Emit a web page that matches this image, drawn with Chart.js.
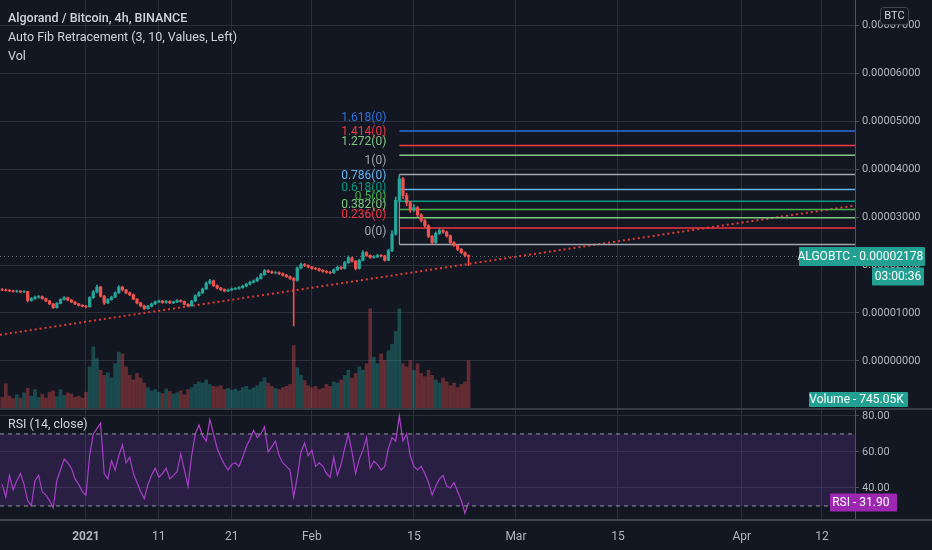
<!DOCTYPE html>
<html>
<head>
<meta charset="utf-8">
<script src="https://cdn.jsdelivr.net/npm/chart.js@4.4.1/dist/chart.umd.min.js"></script>
<style>
  html, body { margin: 0; padding: 0; background: #131722; }
  #wrap { position: relative; width: 932px; height: 550px; overflow: hidden; background: #131722; }
  canvas { position: absolute; left: 0; }
  #priceCanvas { top: 0; }
  #rsiCanvas { top: 396px; }
</style>
</head>
<body>
<div id="wrap">
  <canvas id="priceCanvas" width="932" height="409"></canvas>
  <canvas id="rsiCanvas" width="932" height="154"></canvas>
</div>
<script>
// x = days since 1 Jan 2021, prices in satoshi (1e-8 BTC)
const firstDay = -11.5;
const firstOpen = 1490;
const closes = [1480,1470,1462,1450,1455,1440,1445,1260,1300,1330,
  1340,1300,1250,1190,1110,1200,1280,1320,1270,1230,
  1190,1160,1140,1130,1320,1440,1540,1350,1210,1280,
  1330,1420,1540,1480,1420,1380,1290,1210,1150,1090,
  1140,1190,1230,1250,1220,1240,1210,1230,1260,1240,
  1180,1150,1250,1360,1420,1500,1620,1670,1570,1520,
  1490,1460,1480,1500,1510,1530,1560,1600,1640,1670,
  1720,1800,1880,1860,1840,1840,1820,1790,1760,1720,
  1680,1940,2010,1990,1960,1930,1920,1890,1870,1850,
  1840,1900,1950,1930,2050,2150,2080,1930,2100,2260,
  2200,2160,2170,2200,2190,2100,2300,2650,3350,3800,
  3450,3300,3150,3200,3050,2930,2820,2600,2470,2660,
  2720,2690,2610,2470,2410,2330,2260,2200,2178];
const highs = [1510,1500,1490,1480,1475,1470,1465,1455,1320,1350,
  1365,1355,1310,1265,1200,1215,1300,1340,1330,1285,
  1240,1200,1175,1160,1340,1470,1580,1560,1370,1300,
  1350,1440,1570,1560,1495,1440,1395,1300,1225,1165,
  1160,1210,1250,1270,1265,1260,1255,1250,1280,1275,
  1250,1195,1265,1380,1445,1520,1650,1700,1685,1585,
  1535,1505,1500,1520,1530,1550,1580,1620,1665,1690,
  1745,1825,1910,1900,1880,1865,1860,1835,1805,1775,
  1740,1960,2040,2035,2005,1975,1950,1935,1905,1885,
  1870,1920,1975,1970,2075,2190,2165,2095,2120,2300,
  2280,2215,2195,2225,2220,2205,2330,2720,3420,3870,
  3830,3500,3330,3260,3220,3070,2950,2840,2620,2690,
  2760,2740,2710,2630,2490,2425,2345,2275,2215];
const lows = [1465,1455,1445,1435,1430,1420,1425,1230,1245,1285,
  1310,1285,1235,1175,1095,1100,1190,1265,1255,1215,
  1175,1145,1125,1105,1120,1300,1420,1330,1180,1195,
  1265,1320,1405,1460,1400,1360,1275,1190,1130,1070,
  1080,1125,1175,1215,1200,1205,1195,1195,1215,1225,
  1165,1130,1140,1240,1345,1405,1490,1600,1550,1500,
  1470,1440,1445,1465,1485,1495,1515,1545,1585,1625,
  1655,1705,1785,1840,1820,1815,1800,1770,1740,1700,
  730,1660,1920,1970,1940,1910,1900,1870,1850,1830,
  1815,1825,1885,1910,1915,2035,2060,1900,1915,2085,
  2180,2140,2140,2155,2170,2080,2090,2280,2620,3300,
  3380,3240,3100,3120,3010,2900,2790,2570,2440,2450,
  2640,2660,2580,2450,2390,2300,2240,2170,1990];
// volume in thousands of ALGO
const volumes = [180,390,200,160,220,170,250,320,200,300,
  180,230,170,260,280,190,300,210,250,230,
  180,200,170,260,650,960,780,600,520,560,
  480,700,880,850,650,520,450,550,480,400,
  330,280,300,260,240,310,270,230,250,280,
  220,300,330,380,420,400,450,380,350,340,
  360,300,320,290,310,280,330,350,300,330,
  360,420,480,400,350,320,300,330,350,380,
  980,640,520,440,360,330,350,300,320,380,
  350,420,400,450,520,600,480,550,650,600,
  700,1550,800,700,850,750,900,1000,1200,1550,
  700,650,750,600,700,550,500,600,520,450,
  400,480,420,360,400,330,380,420,745.05];
const rsi = [42,35,47,39,44,48,42,33,30,44,
  47,38,36,33,29,44,50,56,54,51,
  45,42,38,36,58,70,73,76,48,45,
  55,50,58,64,54,57,48,43,38,34,
  42,47,51,46,48,51,45,47,49,59,
  50,41,58,70,75,69,66,78,70,62,
  57,53,50,53,54,52,57,63,67,72,
  68,70,74,60,63,66,58,54,52,50,
  35,46,60,65,58,61,52,54,52,48,
  46,57,47,53,62,70,60,48,56,61,
  68,51,55,53,50,52,62,68,66,80,
  66,70,58,52,50,52,48,43,36,41,
  45,47,41,40,43,38,33,26,31.9];

// time axis
const xMin = -11.8, xMax = 105.53;
const dateTicks = [0, 10, 20, 31, 45, 59, 73, 90, 101];
const dateLabels = ['2021', '11', '21', 'Feb', '15', 'Mar', '15', 'Apr', '12'];
const priceTicks = [0, 1000, 2000, 3000, 4000, 5000, 6000, 7000];
const rsiTicks = [40, 60, 80];

// drawings
const trendDays = [-11.8, 105.53];
const trendPrices = [544, 3243];
const fibStartDay = 43;
const fibZero = 2427, fibOne = 3891;
const fibRatios = [0, 0.236, 0.382, 0.5, 0.618, 0.786, 1, 1.272, 1.414, 1.618];
const fibColors = ['#a3a6af', '#f23645', '#81c784', '#4caf50', '#089981', '#64b5f6', '#a3a6af', '#81c784', '#f23645', '#2f6fe0'];

const bg = '#131722', gridColor = '#2b2f3a', textColor = '#b2b5be';
const upColor = '#26a69a', downColor = '#ef5350';
const fontFamily = 'Roboto, "Noto Sans", sans-serif';

const days = closes.map((c, i) => firstDay + i * 0.5);
const opens = [firstOpen].concat(closes.slice(0, -1));
const candleColors = closes.map((c, i) => c >= opens[i] ? upColor : downColor);
const volColors = closes.map((c, i) => c >= opens[i] ? 'rgba(38,166,154,0.36)' : 'rgba(239,83,80,0.36)');
const lastPrice = closes[closes.length - 1];

function roundRect(ctx, x, y, w, h, r, fill, stroke) {
  ctx.beginPath();
  ctx.moveTo(x + r, y);
  ctx.arcTo(x + w, y, x + w, y + h, r);
  ctx.arcTo(x + w, y + h, x, y + h, r);
  ctx.arcTo(x, y + h, x, y, r);
  ctx.arcTo(x, y, x + w, y, r);
  ctx.closePath();
  ctx.fillStyle = fill;
  ctx.fill();
  if (stroke) { ctx.strokeStyle = stroke; ctx.lineWidth = 1; ctx.stroke(); }
}

function xScale(withLabels) {
  return {
    type: 'linear', min: xMin, max: xMax, offset: false,
    afterBuildTicks: (s) => { s.ticks = dateTicks.map(v => ({ value: v })); },
    grid: { color: gridColor, drawTicks: false, offset: false },
    border: { display: false },
    ticks: {
      display: withLabels, padding: 10, color: textColor, maxRotation: 0, autoSkip: false,
      font: (c) => ({ family: fontFamily, size: 12, weight: c.tick && c.tick.value === 0 ? 'bold' : 'normal' }),
      callback: (v) => dateLabels[dateTicks.indexOf(v)]
    },
    afterFit: (s) => { s.height = withLabels ? 30 : 0; s.paddingLeft = 0; s.paddingRight = 0; }
  };
}

function rightAxis(min, max, tickValues, fmt) {
  return {
    position: 'right', min: min, max: max,
    afterBuildTicks: (s) => { s.ticks = tickValues.map(v => ({ value: v })); },
    grid: { color: gridColor, tickLength: 4, tickColor: '#50535e' },
    border: { color: '#50535e' },
    ticks: { color: textColor, padding: 3, font: { family: fontFamily, size: 11 }, callback: fmt },
    afterFit: (s) => { s.width = 77; s.paddingTop = 0; s.paddingBottom = 0; }
  };
}

const lineDs = (label, points, color, width, dash, order) => ({
  type: 'line', label: label, yAxisID: 'y', data: points,
  borderColor: color, borderWidth: width, borderDash: dash,
  pointRadius: 0, fill: false, order: order
});

const fibDatasets = fibRatios.map((r, i) => lineDs('fib ' + r,
  [{ x: fibStartDay, y: fibZero + r * (fibOne - fibZero) }, { x: xMax, y: fibZero + r * (fibOne - fibZero) }],
  fibColors[i], 1.5, [], 4));

const priceOverlay = {
  id: 'priceOverlay',
  afterDraw(chart) {
    const { ctx, scales } = chart;
    const xs = scales.x, ys = scales.y;
    ctx.save();
    // fib level labels, left of the drawing
    ctx.font = '12px ' + fontFamily;
    ctx.textAlign = 'right';
    ctx.textBaseline = 'middle';
    const lx = xs.getPixelForValue(fibStartDay) - 13;
    fibRatios.forEach((r, i) => {
      ctx.fillStyle = fibColors[i];
      ctx.fillText(r + '(0)', lx, ys.getPixelForValue(fibZero + r * (fibOne - fibZero)) - 13);
    });
    // legend
    ctx.textAlign = 'left';
    ctx.fillStyle = '#d1d4dc';
    ctx.font = '500 12.5px ' + fontFamily;
    ctx.fillText('Algorand / Bitcoin, 4h, BINANCE', 8, 19);
    ctx.font = '12.5px ' + fontFamily;
    ctx.fillText('Auto Fib Retracement (3, 10, Values, Left)', 8, 38);
    ctx.fillText('Vol', 8, 57);
    // currency badge
    roundRect(ctx, 880.5, 7.5, 28, 17, 3, bg, '#434651');
    ctx.fillStyle = '#d1d4dc';
    ctx.font = '11px ' + fontFamily;
    ctx.textAlign = 'center';
    ctx.fillText('BTC', 894.5, 16);
    // last price badge
    const yc = ys.getPixelForValue(lastPrice);
    roundRect(ctx, 799, yc - 9.5, 126, 19, 1, '#22a092');
    roundRect(ctx, 872, yc + 11, 52, 18, 1, '#22a092');
    ctx.fillStyle = '#ffffff';
    ctx.font = '12px ' + fontFamily;
    ctx.textAlign = 'right';
    ctx.fillText('ALGOBTC', 850, yc);
    ctx.textAlign = 'left';
    ctx.fillText('- ' + (lastPrice / 1e8).toFixed(8), 853, yc);
    ctx.textAlign = 'center';
    ctx.fillText('03:00:36', 898, yc + 20);
    // volume badge
    roundRect(ctx, 809, 392, 99, 15, 1, '#22a092');
    ctx.fillStyle = '#ffffff';
    ctx.textAlign = 'right';
    ctx.fillText('Volume', 850, 400);
    ctx.textAlign = 'left';
    ctx.fillText('- ' + (volumes[volumes.length - 1]).toFixed(2) + 'K', 853, 400);
    ctx.restore();
  }
};

new Chart(document.getElementById('priceCanvas'), {
  type: 'bar',
  data: {
    datasets: [
      { type: 'bar', label: 'Volume', yAxisID: 'vol', grouped: false, barThickness: 3, order: 10,
        data: days.map((d, i) => ({ x: d, y: volumes[i] })), backgroundColor: volColors },
      lineDs('Trend', trendDays.map((d, i) => ({ x: d, y: trendPrices[i] })), '#e53935', 2, [2, 3], 5),
      lineDs('Last price', [{ x: xMin, y: lastPrice }, { x: xMax, y: lastPrice }], 'rgba(178,181,190,0.55)', 1, [1, 3], 6),
      ...fibDatasets,
      lineDs('fib edge', [{ x: fibStartDay, y: fibZero }, { x: fibStartDay, y: fibOne }], '#a3a6af', 1, [], 4),
      { type: 'bar', label: 'Wicks', yAxisID: 'y', grouped: false, barThickness: 1, order: 2,
        data: days.map((d, i) => ({ x: d, y: [lows[i], highs[i]] })), backgroundColor: candleColors },
      { type: 'bar', label: 'Bodies', yAxisID: 'y', grouped: false, barThickness: 2.6, order: 1,
        data: days.map((d, i) => ({ x: d, y: [opens[i], closes[i]] })), backgroundColor: candleColors }
    ]
  },
  options: {
    responsive: false, animation: false, events: [],
    layout: { padding: 0 },
    plugins: { legend: { display: false }, tooltip: { enabled: false } },
    scales: {
      x: xScale(false),
      y: rightAxis(-1004, 7531, priceTicks, (v) => (v / 1e8).toFixed(8)),
      vol: { display: false, min: 0, max: 6324 }
    }
  },
  plugins: [priceOverlay]
});

const rsiOverlay = {
  id: 'rsiOverlay',
  afterDraw(chart) {
    const { ctx, scales, chartArea } = chart;
    ctx.save();
    // pane separator and time axis line
    ctx.fillStyle = '#363a45';
    ctx.fillRect(0, chartArea.top - 2, 932, 2);
    ctx.fillStyle = '#434651';
    ctx.fillRect(0, chartArea.bottom - 1, 932, 2);
    ctx.fillStyle = '#d1d4dc';
    ctx.font = '12.5px ' + fontFamily;
    ctx.textBaseline = 'middle';
    ctx.fillText('RSI (14, close)', 8, chartArea.top + 15);
    const last = rsi[rsi.length - 1];
    const yc = scales.y.getPixelForValue(last);
    roundRect(ctx, 830, yc - 9, 67, 18, 1, '#9c27b0');
    ctx.fillStyle = '#ffffff';
    ctx.font = '12px ' + fontFamily;
    ctx.textAlign = 'right';
    ctx.fillText('RSI', 850, yc);
    ctx.textAlign = 'left';
    ctx.fillText('- ' + last.toFixed(2), 853, yc);
    ctx.restore();
  }
};

new Chart(document.getElementById('rsiCanvas'), {
  type: 'line',
  data: {
    datasets: [
      { label: 'Upper band', data: [{ x: xMin, y: 70 }, { x: xMax, y: 70 }],
        borderColor: '#9598a1', borderWidth: 1, borderDash: [4, 4], pointRadius: 0, fill: false },
      { label: 'Lower band', data: [{ x: xMin, y: 30 }, { x: xMax, y: 30 }],
        borderColor: '#9598a1', borderWidth: 1, borderDash: [4, 4], pointRadius: 0,
        fill: '-1', backgroundColor: 'rgba(126,60,194,0.21)' },
      { label: 'RSI', data: days.map((d, i) => ({ x: d, y: rsi[i] })),
        borderColor: '#b040c8', borderWidth: 1.2, pointRadius: 0, fill: false }
    ]
  },
  options: {
    responsive: false, animation: false, events: [],
    layout: { padding: { top: 14, left: 0, right: 0, bottom: 0 } },
    plugins: { legend: { display: false }, tooltip: { enabled: false } },
    scales: {
      x: xScale(true),
      y: rightAxis(22.2, 83.3, rsiTicks, (v) => v.toFixed(2))
    }
  },
  plugins: [rsiOverlay]
});
</script>
</body>
</html>
